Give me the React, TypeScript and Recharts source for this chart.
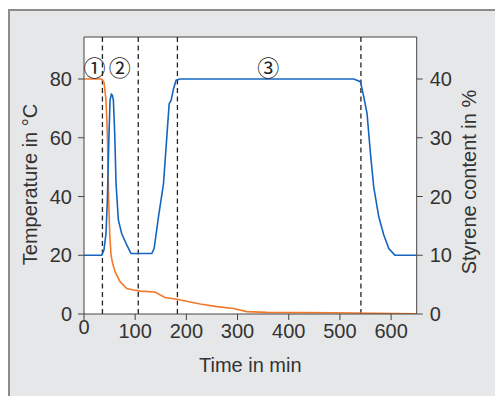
import React from 'react';
import { ComposedChart, Line, XAxis, YAxis, ReferenceLine, ReferenceDot, CartesianGrid } from 'recharts';

const blueTime = [0, 34.5, 39, 43, 45.6, 48.9, 50.9, 53.5, 55.4, 57.4, 60, 62.6, 67.1, 73.6, 83.5, 91.9, 132.4, 137, 145.5, 155.3, 161.8, 166.4, 170.3, 174.9, 180, 187.8, 527, 540, 546.6, 553, 559.7, 566, 575.9, 585.7, 595.5, 607.3, 650];
const blueTemperature = [20, 20, 21.8, 27.4, 38.8, 61.4, 72.8, 74.8, 74.5, 72.8, 61.4, 44.4, 32, 27.4, 23.5, 20.6, 20.6, 22.3, 33.1, 44.4, 60.3, 71.6, 72.8, 76.7, 79.6, 80, 80, 79.1, 73.9, 68.2, 54.6, 43.3, 33.1, 26.9, 22.3, 20.05, 20];

const orangeTime = [0, 34.5, 39, 43, 45.6, 48.2, 50.2, 52.8, 56, 60.6, 70.4, 83.5, 96.5, 109.6, 138.9, 145.5, 158.5, 181.4, 227, 259.6, 292, 318, 357, 487.6, 650];
const orangeStyrene = [40, 40, 39.5, 36.4, 30.7, 19.4, 13.7, 10, 8.6, 7.2, 5.5, 4.35, 4.1, 3.9, 3.75, 3.4, 2.8, 2.5, 1.7, 1.25, 0.95, 0.4, 0.28, 0.22, 0.05];

const xTicks = [0, 100, 200, 300, 400, 500, 600];
const leftTicks = [0, 20, 40, 60, 80];
const rightTicks = [0, 10, 20, 30, 40];
const phaseLines = [36, 106, 182.5, 541];
const phaseLabels = [
  { t: 20.5, v: 83.8, text: '①' },
  { t: 70, v: 83.8, text: '②' },
  { t: 360, v: 83.8, text: '③' },
];

const blueData = blueTime.map((t, i) => ({ t, temp: blueTemperature[i] }));
const orangeData = orangeTime.map((t, i) => ({ t, sty: orangeStyrene[i] }));

const TXT = '#333333';
const AX = '#444444';
const FONT = 'Liberation Sans, Arial, sans-serif';

const XTick = (props: any) => {
  const { x, y, payload } = props;
  const dy = payload.value === 0 ? -4 : 0;
  return (
    <text x={x} y={y + 16 + dy} textAnchor="middle" fill={TXT} fontSize={20} fontFamily={FONT}>
      {payload.value}
    </text>
  );
};

export default function App() {
  return (
    <div style={{ position: 'absolute', left: 0, top: 0, width: 495, height: 396, overflow: 'hidden', background: '#fff' }}>
      <div style={{ position: 'absolute', left: 8, top: 9, width: 495, height: 400, background: '#e6e7e9', borderLeft: '2px solid #8c8c8c', borderTop: '2px solid #8c8c8c', boxSizing: 'border-box' }} />
      <div style={{ position: 'absolute', left: 0, top: 0 }}>
        <ComposedChart width={495} height={396} margin={{ top: 37, right: 0, bottom: 0, left: 0 }} style={{ fontFamily: FONT }}>
          <CartesianGrid horizontal={false} vertical={false} fill="#ffffff" yAxisId="left" />
          <XAxis
            type="number"
            dataKey="t"
            domain={[0, 650]}
            ticks={xTicks}
            allowDataOverflow
            height={82}
            stroke={AX}
            tickSize={6}
            tick={<XTick />}
            label={{
              content: () => (
                <text x={250.3} y={372} textAnchor="middle" fill={TXT} fontSize={20} fontFamily={FONT}>
                  Time in min
                </text>
              ),
            }}
          />
          <YAxis
            yAxisId="left"
            type="number"
            domain={[0, 94.3]}
            ticks={leftTicks}
            allowDataOverflow
            width={84}
            stroke={AX}
            tickSize={6}
            tickMargin={6}
            tick={{ fill: TXT, fontSize: 20, fontFamily: FONT }}
            label={{
              content: () => (
                <text x={37} y={184.5} transform="rotate(-90 37 184.5)" textAnchor="middle" fill={TXT} fontSize={20} fontFamily={FONT}>
                  Temperature in °C
                </text>
              ),
            }}
          />
          <YAxis
            yAxisId="right"
            orientation="right"
            type="number"
            domain={[0, 47.15]}
            ticks={rightTicks}
            allowDataOverflow
            width={78.3}
            stroke={AX}
            tickSize={6}
            tickMargin={7}
            tick={{ fill: TXT, fontSize: 20, fontFamily: FONT }}
            label={{
              content: () => (
                <text x={476} y={182} transform="rotate(-90 476 182)" textAnchor="middle" fill={TXT} fontSize={20} fontFamily={FONT}>
                  Styrene content in %
                </text>
              ),
            }}
          />
          <ReferenceLine yAxisId="left" y={94.3} stroke={AX} strokeWidth={1} />
          {phaseLines.map((x) => (
            <ReferenceLine key={x} yAxisId="left" x={x} stroke="#222" strokeWidth={1.3} strokeDasharray="5 3.5" />
          ))}
          <Line
            yAxisId="right"
            data={orangeData}
            dataKey="sty"
            type="linear"
            stroke="#f4792b"
            strokeWidth={1.6}
            dot={false}
            isAnimationActive={false}
          />
          <Line
            yAxisId="left"
            data={blueData}
            dataKey="temp"
            type="linear"
            stroke="#1565c0"
            strokeWidth={1.6}
            dot={false}
            isAnimationActive={false}
          />
          {phaseLabels.map((p) => (
            <ReferenceDot
              key={p.text}
              yAxisId="left"
              x={p.t}
              y={p.v}
              r={0.01}
              fill="none"
              stroke="none"
              label={{ value: p.text, position: 'center', fill: '#222', fontSize: 22, fontFamily: 'Noto Sans CJK JP' }}
            />
          ))}
        </ComposedChart>
      </div>
    </div>
  );
}
